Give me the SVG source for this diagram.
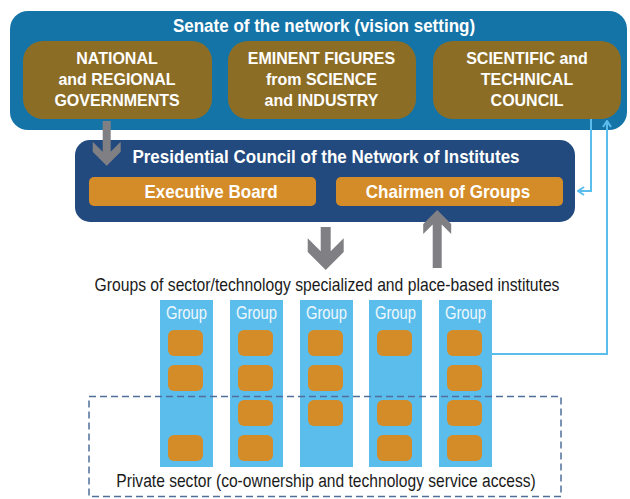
<svg xmlns="http://www.w3.org/2000/svg" width="630" height="499" viewBox="0 0 630 499">
<defs>
<style>
.b{font-family:"Liberation Sans",Arial,sans-serif;font-weight:bold;fill:#fff;text-anchor:middle}
.t16{font-size:16px}
.t17{font-size:17px}
.r{font-family:"Liberation Sans",Arial,sans-serif;fill:#1a1a1a;text-anchor:middle}
.brown{fill:#8c6d25}
.orange{fill:#d48c28}
.col{fill:#5bbdec}
.sq{fill:#d48c28}
.gl{font-family:"Liberation Sans",Arial,sans-serif;font-size:14.8px;fill:#eef8fd;text-anchor:middle}
.arr{fill:#808084}
.conn{fill:none;stroke:#5bbdec;stroke-width:2}
</style>
<marker id="oa" viewBox="0 0 8 10" refX="7" refY="5" markerWidth="8" markerHeight="10" markerUnits="userSpaceOnUse" orient="auto">
<path d="M1,1 L7,5 L1,9" fill="none" stroke="#5bbdec" stroke-width="2"/>
</marker>
</defs>
<rect width="630" height="499" fill="#fff"/>

<g id="senate">
<rect x="10" y="11" width="617" height="119" rx="18" fill="#1474a8"/>
<text class="b t17" transform="translate(324,32) scale(1,1.08)">Senate of the network (vision setting)</text>
</g>
<g id="governments">
<rect class="brown" x="23" y="41" width="189" height="78" rx="20"/>
<text class="b t16" transform="translate(117,64.3) scale(1,1.07)">NATIONAL</text>
<text class="b t16" transform="translate(117,85.3) scale(1,1.07)">and REGIONAL</text>
<text class="b t16" transform="translate(117,105.5) scale(1,1.07)">GOVERNMENTS</text>
</g>
<g id="eminent">
<rect class="brown" x="228" y="41" width="188" height="78" rx="20"/>
<text class="b t16" transform="translate(321.5,64.3) scale(1,1.07)">EMINENT FIGURES</text>
<text class="b t16" transform="translate(321.5,85.3) scale(1,1.07)">from SCIENCE</text>
<text class="b t16" transform="translate(321.5,105.5) scale(1,1.07)">and INDUSTRY</text>
</g>
<g id="council">
<rect class="brown" x="433" y="41" width="188" height="78" rx="20"/>
<text class="b t16" transform="translate(527,64.3) scale(1,1.07)">SCIENTIFIC and</text>
<text class="b t16" transform="translate(527,85.3) scale(1,1.07)">TECHNICAL</text>
<text class="b t16" transform="translate(527,105.5) scale(1,1.07)">COUNCIL</text>
</g>

<g id="presidential">
<rect x="75" y="140" width="500" height="82" rx="15" fill="#224a7e"/>
<text class="b t17" transform="translate(326,162.8) scale(1,1.08)">Presidential Council of the Network of Institutes</text>
</g>
<g id="executive">
<rect class="orange" x="89" y="177" width="227" height="29" rx="5"/>
<text class="b t17" transform="translate(211,197.8) scale(1,1.08)">Executive Board</text>
</g>
<g id="chairmen">
<rect class="orange" x="336" y="177" width="227" height="29" rx="5"/>
<text class="b t17" transform="translate(448,197.8) scale(1,1.08)">Chairmen of Groups</text>
</g>

<g id="caption">
<text class="r" font-size="15.7" transform="translate(327,290.5) scale(1,1.17)">Groups of sector/technology specialized and place-based institutes</text>
</g>

<g id="group1">
<rect class="col" x="160" y="300" width="53" height="167"/>
<text class="gl" transform="translate(186.5,319.3) scale(1,1.3)">Group</text>
<rect class="sq" x="168" y="330" width="35" height="26" rx="6"/>
<rect class="sq" x="168" y="365" width="35" height="26" rx="6"/>
<rect class="sq" x="168" y="435" width="35" height="26" rx="6"/>
</g>
<g id="group2">
<rect class="col" x="230" y="300" width="53" height="167"/>
<text class="gl" transform="translate(256.5,319.3) scale(1,1.3)">Group</text>
<rect class="sq" x="238" y="330" width="35" height="26" rx="6"/>
<rect class="sq" x="238" y="365" width="35" height="26" rx="6"/>
<rect class="sq" x="238" y="400" width="35" height="26" rx="6"/>
<rect class="sq" x="238" y="435" width="35" height="26" rx="6"/>
</g>
<g id="group3">
<rect class="col" x="300" y="300" width="53" height="167"/>
<text class="gl" transform="translate(326.5,319.3) scale(1,1.3)">Group</text>
<rect class="sq" x="308" y="330" width="35" height="26" rx="6"/>
<rect class="sq" x="308" y="365" width="35" height="26" rx="6"/>
<rect class="sq" x="308" y="400" width="35" height="26" rx="6"/>
</g>
<g id="group4">
<rect class="col" x="369" y="300" width="53" height="167"/>
<text class="gl" transform="translate(395.5,319.3) scale(1,1.3)">Group</text>
<rect class="sq" x="377" y="330" width="35" height="26" rx="6"/>
<rect class="sq" x="377" y="400" width="35" height="26" rx="6"/>
<rect class="sq" x="377" y="435" width="35" height="26" rx="6"/>
</g>
<g id="group5">
<rect class="col" x="439" y="300" width="53" height="167"/>
<text class="gl" transform="translate(465.5,319.3) scale(1,1.3)">Group</text>
<rect class="sq" x="447" y="330" width="35" height="26" rx="6"/>
<rect class="sq" x="447" y="365" width="35" height="26" rx="6"/>
<rect class="sq" x="447" y="400" width="35" height="26" rx="6"/>
<rect class="sq" x="447" y="435" width="35" height="26" rx="6"/>
</g>

<g id="private-sector">
<rect x="89" y="396.5" width="472" height="100" fill="none" stroke="#4f6f9a" stroke-width="1.5" stroke-dasharray="7 4"/>
<text class="r" font-size="15.6" transform="translate(326,487) scale(1,1.17)">Private sector (co-ownership and technology service access)</text>
</g>

<g id="connectors">
<polygon class="arr" points="102.7,121 110.7,121 110.7,151.7 120.7,141.7 120.7,151.7 106.7,165.7 92.7,151.7 92.7,141.7 102.7,151.7"/>
<polygon class="arr" points="320.7,227 330.7,227 330.7,251.3 343.7,238.3 343.7,252 325.7,270 307.7,252 307.7,238.3 320.7,251.3"/>
<polygon class="arr" points="437.2,210 451.2,224 451.2,234 441.7,224.5 441.7,268 432.7,268 432.7,224.5 423.2,234 423.2,224"/>
<path class="conn" d="M591,119 V191 H578" marker-end="url(#oa)"/>
<path class="conn" d="M492,354 H607 V121" marker-end="url(#oa)"/>
</g>
</svg>
